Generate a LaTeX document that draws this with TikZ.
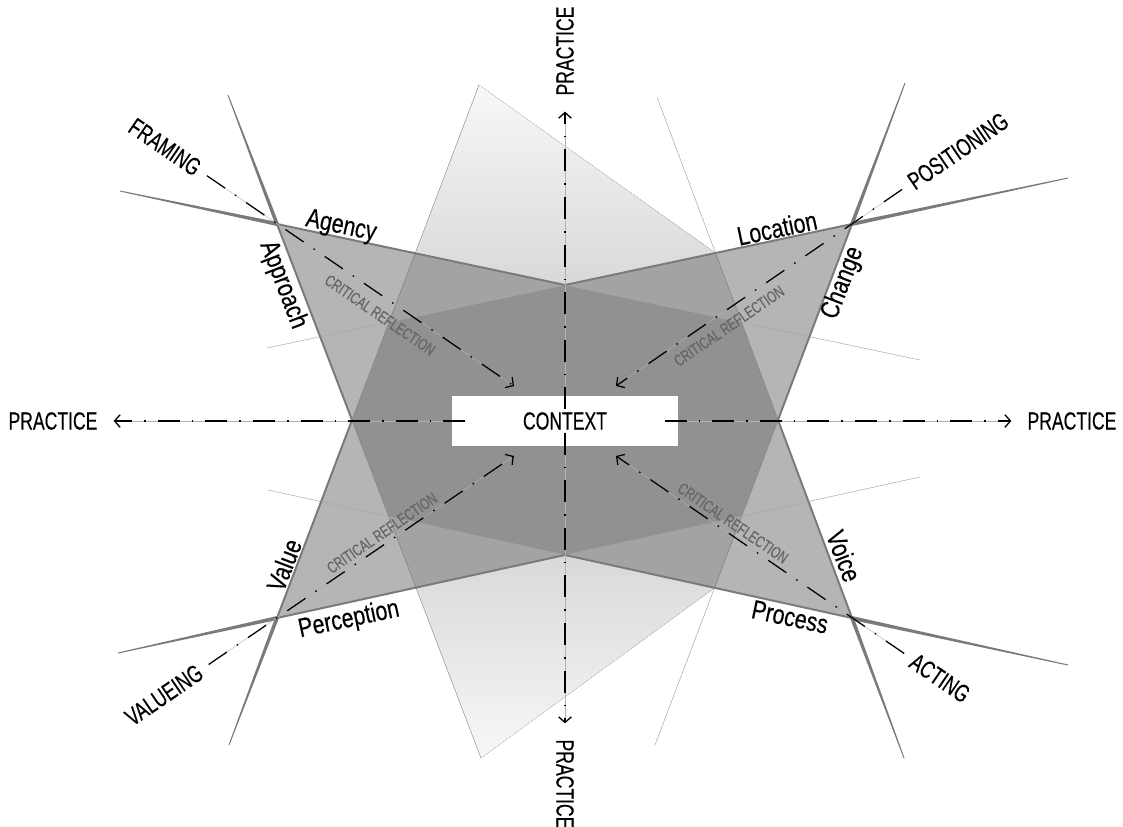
\documentclass[tikz,border=0pt]{standalone}
\usepackage{fontspec}
\setmainfont{Liberation Sans}
\newfontfamily\capsfont{Liberation Sans}[FakeStretch=0.71,FakeBold=0.3]
\newfontfamily\facetfont{Liberation Sans}[FakeStretch=0.8,FakeBold=0.3]
\usetikzlibrary{arrows.meta,calc}

\begin{document}
\begin{tikzpicture}[
  x=0.025cm, y=-0.025cm,
  every node/.style={inner sep=0pt},
  axislabel/.style={font=\capsfont\fontsize{17.6pt}{20pt}\selectfont},
  facetlabel/.style={font=\facetfont\fontsize{19pt}{22pt}\selectfont},
  critlabel/.style={font=\capsfont\fontsize{11.6pt}{13pt}\selectfont, text=black!60},
  dashdot/.style={draw=black, line width=0.9pt,
    dash pattern=on 0.55cm off 0.3cm on 0.04cm off 0.3cm,
    preaction={draw=black!30, line width=0.3pt, solid}},
  practice/.style={dashdot, -{Straight Barb[length=4pt,width=9pt]},
    shorten <=-0.33cm, shorten >=0.4cm},
  reflect/.style={dashdot, -{Straight Barb[length=4pt,width=9pt]},
    shorten <=0.25cm, shorten >=0.45cm},
  rim/.style={draw=black!52, line width=1.4pt, line join=miter},
  spike/.style={fill=black!52},
  seam/.style={draw=black!45, line width=0.6pt},
  hair/.style={draw=black!35, line width=0.35pt}
]
\useasboundingbox (0,0) rectangle (1123,827);

\coordinate (tl) at (277,224);
\coordinate (tr) at (852,224);
\coordinate (bl) at (277,618);
\coordinate (br) at (852,618);
\coordinate (ctop) at (565,285);
\coordinate (cbot) at (565,555);
\coordinate (lmid) at (352,420);
\coordinate (rmid) at (778,420);
\coordinate (vtl) at (479,85);
\coordinate (vtr) at (657,97);
\coordinate (vbl) at (481,758);
\coordinate (vbr) at (655,745);
\coordinate (ptl) at (intersection of tl--ctop and lmid--vtl);
\coordinate (ptr) at (intersection of tr--ctop and rmid--vtr);
\coordinate (pbl) at (intersection of bl--cbot and lmid--vbl);
\coordinate (pbr) at (intersection of br--cbot and rmid--vbr);
\coordinate (dtl) at (intersection of tr--ctop and lmid--vtl);
\coordinate (dtr) at (intersection of tl--ctop and rmid--vtr);
\coordinate (dbl) at (intersection of br--cbot and lmid--vbl);
\coordinate (dbr) at (intersection of bl--cbot and rmid--vbr);
\coordinate (wtl) at (120,191);
\coordinate (etr) at (1068,178);
\coordinate (wbl) at (118,653);
\coordinate (ebr) at (1068,665);
\coordinate (ntl) at (228,95);
\coordinate (sbl) at (229,745);
\coordinate (ntr) at (905,83);
\coordinate (sbr) at (904,758);
\coordinate (xl6) at (267,348);
\coordinate (xl5) at (920,360);
\coordinate (xl8) at (268,490);
\coordinate (xl7) at (920,477);

\fill[top color=black!3, bottom color=black!15] (vtl) -- (ptl) -- (ctop) -- (ptr) -- cycle;
\fill[top color=black!15, bottom color=black!3] (vbl) -- (pbl) -- (cbot) -- (pbr) -- cycle;
\fill[black!29] (tl) -- (ctop) -- (tr) -- (rmid) -- (br) -- (cbot) -- (bl) -- (lmid) -- cycle;
\fill[black!36] (ptl) -- (ctop) -- (ptr) -- (rmid) -- (pbr) -- (cbot) -- (pbl) -- (lmid) -- cycle;
\fill[black!43] (ctop) -- (dtr) -- (rmid) -- (dbr) -- (cbot) -- (dbl) -- (lmid) -- (dtl) -- cycle;

\draw[hair] (xl6) -- (ctop) -- (xl5);
\draw[hair] (xl8) -- (cbot) -- (xl7);
\draw[hair] (ptl) -- (vtl) (pbl) -- (vbl) (ptr) -- (vtr) (pbr) -- (vbr);
\draw[seam] (ptl) -- (lmid) -- (pbl);
\draw[seam] (ptr) -- (rmid) -- (pbr);
\draw[rim] (tl) -- (ctop) -- (tr) -- (rmid) -- (br) -- (cbot) -- (bl) -- (lmid) -- cycle;
\fill[spike] ($(wtl)+(0,-0.5)$) -- ($(tl)+(0,-2)$) -- ($(tl)+(0,2)$) -- ($(wtl)+(0,0.5)$) -- cycle;
\fill[spike] ($(etr)+(0,-0.5)$) -- ($(tr)+(0,-2)$) -- ($(tr)+(0,2)$) -- ($(etr)+(0,0.5)$) -- cycle;
\fill[spike] ($(wbl)+(0,-0.5)$) -- ($(bl)+(0,-2)$) -- ($(bl)+(0,2)$) -- ($(wbl)+(0,0.5)$) -- cycle;
\fill[spike] ($(ebr)+(0,-0.5)$) -- ($(br)+(0,-2)$) -- ($(br)+(0,2)$) -- ($(ebr)+(0,0.5)$) -- cycle;
\fill[spike] ($(ntl)+(-0.5,0)$) -- ($(tl)+(-2,0)$) -- ($(tl)+(2,0)$) -- ($(ntl)+(0.5,0)$) -- cycle;
\fill[spike] ($(sbl)+(-0.5,0)$) -- ($(bl)+(-2,0)$) -- ($(bl)+(2,0)$) -- ($(sbl)+(0.5,0)$) -- cycle;
\fill[spike] ($(ntr)+(-0.5,0)$) -- ($(tr)+(-2,0)$) -- ($(tr)+(2,0)$) -- ($(ntr)+(0.5,0)$) -- cycle;
\fill[spike] ($(sbr)+(-0.5,0)$) -- ($(br)+(-2,0)$) -- ($(br)+(2,0)$) -- ($(sbr)+(0.5,0)$) -- cycle;

\node[axislabel, fill=white, minimum width=5.625cm, minimum height=1.225cm] (ctx) at (565,421) {CONTEXT};
\node[axislabel] (pleft) at (53,421) {PRACTICE};
\node[axislabel] (pright) at (1072,421) {PRACTICE};
\node[axislabel, rotate=90] (ptop) at (565,51) {PRACTICE};
\node[axislabel, rotate=-90] (pbot) at (565,784) {PRACTICE};

\node[axislabel, rotate=-34.4] (framing) at (165,147) {FRAMING};
\node[axislabel, rotate=34.4] (positioning) at (958,151) {POSITIONING};
\node[axislabel, rotate=34.4] (valueing) at (164,695) {VALUEING};
\node[axislabel, rotate=-34.4] (acting) at (940,678) {ACTING};

\node[facetlabel, rotate=-12] (agency) at (341,227) {Agency};
\node[facetlabel, rotate=-69] (approach) at (283,285) {Approach};
\node[facetlabel, rotate=12] (location) at (777,228) {Location};
\node[facetlabel, rotate=69] (change) at (843,283) {Change};
\node[facetlabel, rotate=69] (value) at (284,565) {Value};
\node[facetlabel, rotate=12] (perception) at (349,620) {Perception};
\node[facetlabel, rotate=-69] (voice) at (844,556) {Voice};
\node[facetlabel, rotate=-12] (process) at (790,617) {Process};

\node[critlabel, rotate=-34.4] (crtl) at (380,315) {CRITICAL REFLECTION};
\node[critlabel, rotate=34.4] (crtr) at (729,326) {CRITICAL REFLECTION};
\node[critlabel, rotate=34.4] (crbl) at (382,533) {CRITICAL REFLECTION};
\node[critlabel, rotate=-34.4] (crbr) at (733,523) {CRITICAL REFLECTION};

\draw[practice] (ctx) -- (pleft);
\draw[practice] (ctx) -- (pright);
\draw[practice] (ctx) -- (ptop);
\draw[practice] (ctx) -- (pbot);

\draw[reflect] (framing) -- (ctx);
\draw[reflect] (positioning) -- (ctx);
\draw[reflect] (valueing) -- (ctx);
\draw[reflect] (acting) -- (ctx);
\end{tikzpicture}
\end{document}
